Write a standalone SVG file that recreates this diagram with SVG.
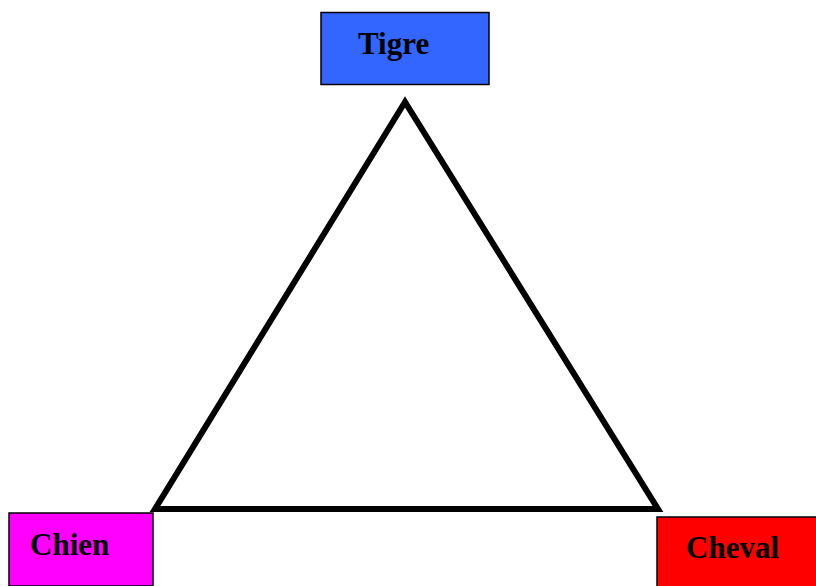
<svg xmlns="http://www.w3.org/2000/svg" width="816" height="586" viewBox="0 0 816 586">
<style>
.box{stroke:#000;stroke-width:1.5}
.lbl{font-family:"Liberation Serif","Times New Roman",serif;font-weight:bold;font-size:31px;fill:#000}
</style>
<rect width="816" height="586" fill="#fff"/>
<g id="connectors">
<polygon points="405,102 155,509 658,509" fill="none" stroke="#000" stroke-width="6" stroke-linejoin="miter"/>
</g>
<g id="tigre">
<rect class="box" x="321" y="12.5" width="168" height="72" fill="#3366ff"/>
<text class="lbl" x="358" y="54">Tigre</text>
</g>
<g id="chien">
<rect class="box" x="9" y="513" width="144" height="73" fill="#ff00ff"/>
<text class="lbl" x="30" y="555">Chien</text>
</g>
<g id="cheval">
<rect class="box" x="657" y="517" width="162" height="72" fill="#ff0000"/>
<text class="lbl" x="686" y="558">Cheval</text>
</g>
</svg>
